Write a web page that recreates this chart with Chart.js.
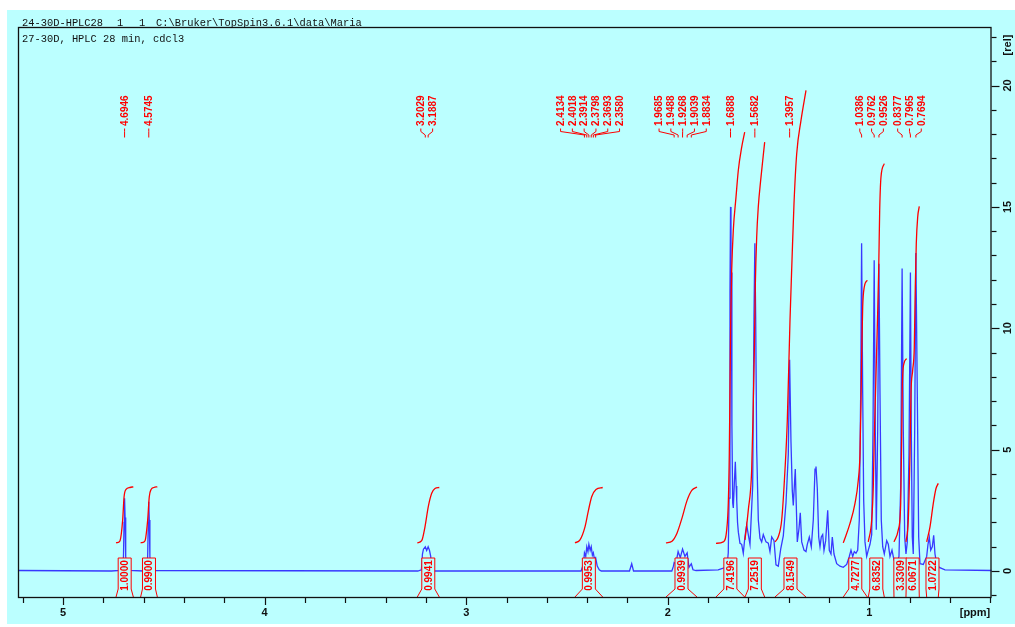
<!DOCTYPE html>
<html><head><meta charset="utf-8">
<script src="https://cdn.jsdelivr.net/npm/chart.js@4/dist/chart.umd.min.js"></script>
<style>html,body{margin:0;padding:0;background:#fff}canvas{display:block}</style>
</head><body>
<canvas id="c" width="1015" height="627"></canvas>
<script>
// ---- data (ppm, intensity) ----
const headerLine1 = "24-30D-HPLC28";
const headerNums = ["1", "1"];
const headerPath = "C:\\Bruker\\TopSpin3.6.1\\data\\Maria";
const titleLine = "27-30D, HPLC 28 min, cdcl3";
const xMajorTicks = [5, 4, 3, 2, 1];
const yMajorTicks = [0, 5, 10, 15, 20];
const xUnit = "[ppm]";
const yUnit = "[rel]";

const spectrum = [
 [5.223,0.02],[4.76,0.0],[4.715,0.03],[4.705,0.15],[4.700,0.6],[4.697,2.0],[4.6946,3.0],[4.692,2.2],[4.689,0.6],[4.684,0.15],[4.675,0.03],
 [4.60,0.0],[4.585,0.15],[4.580,0.6],[4.577,2.0],[4.5745,2.85],[4.572,2.1],[4.569,0.6],[4.564,0.15],[4.555,0.02],
 [3.24,0.0],[3.222,0.05],[3.217,0.7],[3.212,0.9],[3.2029,1.0],[3.196,0.85],[3.1887,1.0],[3.182,0.85],[3.176,0.6],[3.172,0.05],[3.16,0.0],
 [2.43,0.0],[2.418,0.3],[2.4134,0.75],[2.407,0.6],[2.4018,1.0],[2.396,0.8],[2.3914,1.1],[2.385,0.85],[2.3798,1.0],[2.374,0.65],[2.3693,0.75],[2.364,0.5],[2.3580,0.55],[2.350,0.2],[2.340,0.05],[2.33,0.0],
 [2.19,0.0],[2.179,0.3],[2.170,0.0],
 [1.98,0.0],[1.972,0.2],[1.9685,0.35],[1.96,0.3],[1.9488,0.8],[1.938,0.55],[1.9268,0.9],[1.915,0.6],[1.9039,0.75],[1.895,0.15],[1.8834,0.3],[1.875,0.05],[1.86,0.02],
 [1.75,0.05],[1.725,0.12],[1.716,0.15],[1.705,0.3],[1.700,0.75],[1.696,3.0],[1.6915,11.5],[1.6888,15.0],[1.6865,10.0],[1.685,12.3],[1.682,6.0],[1.678,2.8],[1.675,2.6],[1.670,3.6],[1.665,4.5],[1.661,3.5],[1.658,2.9],[1.654,2.0],[1.650,1.6],[1.642,1.14],[1.6335,1.1],[1.6255,0.73],[1.617,1.44],[1.6086,1.9],[1.6007,1.5],[1.5923,1.1],[1.5873,2.0],[1.5789,3.5],[1.5724,10.5],[1.5682,13.5],[1.564,10.4],[1.559,5.0],[1.551,2.1],[1.5427,1.35],[1.5343,1.2],[1.5263,1.5],[1.5129,1.2],[1.5015,1.15],[1.4931,0.8],[1.4846,1.4],[1.4732,1.25],[1.4633,0.25],[1.4519,0.2],[1.44,0.9],[1.4271,1.45],[1.4137,2.8],[1.4023,4.8],[1.3957,8.7],[1.3889,5.3],[1.3824,3.3],[1.3775,2.7],[1.3676,4.2],[1.3626,2.7],[1.3576,1.2],[1.3492,1.75],[1.3428,2.4],[1.3358,1.2],[1.3244,0.86],[1.3145,0.8],[1.308,1.1],[1.2981,1.4],[1.2882,1.0],[1.2783,2.1],[1.2698,4.2],[1.2649,4.3],[1.2584,3.4],[1.2515,1.4],[1.245,1.0],[1.2386,1.4],[1.2316,1.5],[1.2252,0.85],[1.2168,1.25],[1.2068,2.5],[1.1989,0.85],[1.1905,0.7],[1.184,1.4],[1.1756,0.7],[1.1622,0.3],[1.1458,0.2],[1.1295,0.15],[1.1126,0.27],[1.0997,0.6],[1.0913,0.86],[1.0828,0.6],[1.0749,0.8],[1.0665,0.73],[1.058,0.86],[1.0501,2.1],[1.0432,7.3],[1.0386,13.5],[1.0332,7.3],[1.0283,2.9],[1.0218,1.2],[1.0134,0.6],[1.0055,0.86],[0.997,1.1],[0.9886,1.5],[0.9821,5.8],[0.9762,12.8],[0.9707,5.8],[0.9658,1.7],[0.9588,5.8],[0.9526,12.66],[0.9474,7.3],[0.941,2.1],[0.934,1.0],[0.9261,0.7],[0.9142,1.25],[0.9062,1.1],[0.8978,0.6],[0.8879,0.86],[0.878,0.45],[0.8646,0.3],[0.8532,0.6],[0.8447,3.5],[0.8377,12.46],[0.8318,5.8],[0.8249,1.4],[0.8185,0.7],[0.812,1.2],[0.8036,4.8],[0.7965,12.3],[0.7922,5.8],[0.7872,1.4],[0.7823,0.7],[0.7753,5.8],[0.7694,13.1],[0.7624,7.3],[0.7555,1.4],[0.749,0.3],[0.7326,0.27],[0.7158,0.6],[0.7093,1.1],[0.7029,1.4],[0.6959,0.86],[0.688,1.0],[0.6811,1.47],[0.6746,0.7],[0.6662,0.3],[0.6533,0.15],[0.625,0.05],[0.39,0.02]
];

const peakPpm = [4.6946,4.5745,3.2029,3.1887,2.4134,2.4018,2.3914,2.3798,2.3693,2.3580,1.9685,1.9488,1.9268,1.9039,1.8834,1.6888,1.5682,1.3957,1.0386,0.9762,0.9526,0.8377,0.7965,0.7694];

const integralValues = ["1.0000","0.9900","0.9941","0.9953","0.9939","7.4196","7.2519","8.1549","4.7277","6.8352","3.3309","6.0671","1.0722"];
const intA = [[4.737,1.16],[4.727,1.18],[4.717,1.25],[4.704,2.1],[4.697,3.06],[4.6875,3.36],[4.668,3.44],[4.651,3.47]];
const intB = [[4.615,1.16],[4.604,1.18],[4.593,1.25],[4.580,2.1],[4.572,3.06],[4.563,3.36],[4.549,3.44],[4.532,3.47]];
const intC = [[3.2426,1.16],[3.2207,1.25],[3.2044,1.82],[3.188,2.65],[3.1711,3.2],[3.1548,3.4],[3.1334,3.44]];
const intD = [[2.4603,1.16],[2.4355,1.28],[2.4107,1.82],[2.3943,2.47],[2.3775,3.06],[2.3562,3.36],[2.3229,3.44]];
const intE = [[2.0089,1.16],[1.9792,1.23],[1.9544,1.56],[1.9296,2.18],[1.9048,2.9],[1.88,3.33],[1.8552,3.46]];
const intF = [[1.7609,1.14],[1.7247,1.2],[1.7078,1.69],[1.6999,2.79],[1.6949,4.84],[1.6915,7.58],[1.688,10.33],[1.683,12.39],[1.6751,14.03],[1.6617,15.4],[1.6503,16.5],[1.6334,17.46],[1.6185,18.08]];
const intG = [[1.6171,1.28],[1.6007,2.51],[1.5839,4.16],[1.5759,6.9],[1.5709,8.96],[1.566,11.7],[1.559,13.76],[1.5511,15.0],[1.5392,16.1],[1.5194,17.67]];
const intH = [[1.4683,1.2],[1.4519,1.41],[1.435,2.1],[1.4187,4.16],[1.4072,6.2],[1.3938,10.33],[1.3839,12.8],[1.374,15.13],[1.3606,17.19],[1.3393,18.56],[1.3145,19.8]];
const intI = [[1.1295,1.16],[1.0962,1.96],[1.0714,2.79],[1.0551,3.74],[1.0466,4.84],[1.0417,6.9],[1.0382,8.96],[1.0332,10.88],[1.0253,11.7],[1.0104,11.98]];
const intJ = [[1.0055,1.2],[0.9886,2.1],[0.9807,3.47],[0.9757,5.53],[0.9688,7.58],[0.9608,10.05],[0.9539,12.39],[0.9489,14.86],[0.9425,16.23],[0.9261,16.78]];
const intK = [[0.878,1.2],[0.8567,1.69],[0.8447,2.79],[0.8398,5.53],[0.8368,7.58],[0.8284,8.55],[0.815,8.75]];
const intL = [[0.8185,1.2],[0.8071,2.1],[0.7986,4.84],[0.7937,7.31],[0.7852,8.27],[0.7773,9.23],[0.7723,11.7],[0.7674,13.49],[0.7604,14.58],[0.7525,15.02]];
const intM = [[0.7158,1.2],[0.6994,1.82],[0.683,2.79],[0.6696,3.4],[0.6582,3.61]];
const integrals = [intA,intB,intC,intD,intE,intF,intG,intH,intI,intJ,intK,intL,intM];

// ---- styling ----
const BG = '#bbffff';
const BLUE = '#3838ff';
const RED = '#ff0000';
const SANS = "'Liberation Sans', Arial, sans-serif";
const MONO = "'Liberation Mono', 'DejaVu Sans Mono', monospace";

const toXY = a => a.map(p => ({x: p[0], y: p[1]}));
const datasets = [{
  data: toXY(spectrum), borderColor: BLUE, borderWidth: 1.3, pointRadius: 0, tension: 0, order: 2
}];
integrals.forEach(a => datasets.push({
  data: toXY(a), borderColor: RED, borderWidth: 1.3, pointRadius: 0,
  cubicInterpolationMode: 'monotone', order: 1
}));

const deco = {
  id: 'deco',
  beforeDraw(chart) {
    const ctx = chart.ctx;
    ctx.save();
    ctx.fillStyle = '#fff';
    ctx.fillRect(0, 0, chart.width, chart.height);
    ctx.fillStyle = BG;
    ctx.fillRect(7, 10, chart.width - 7, 614);
    ctx.restore();
  },
  afterDatasetsDraw(chart) {
    const ctx = chart.ctx;
    const xs = chart.scales.x, ys = chart.scales.y;
    const a = chart.chartArea;
    ctx.save();

    // integral label boxes
    ctx.font = 'bold 10px ' + SANS;
    integrals.forEach((arr, i) => {
      const xl = xs.getPixelForValue(arr[0][0]);
      const xr = xs.getPixelForValue(arr[arr.length - 1][0]);
      const cx = (xl + xr) / 2;
      const bl = cx - 6.5, br = cx + 6.5;
      const top = 558, mid = 589, bot = a.bottom - 1;
      ctx.beginPath();
      ctx.moveTo(xl, bot); ctx.lineTo(bl, mid); ctx.lineTo(bl, top);
      ctx.lineTo(br, top); ctx.lineTo(br, mid); ctx.lineTo(xr, bot);
      ctx.closePath();
      ctx.fillStyle = BG; ctx.fill();
      ctx.beginPath();
      ctx.moveTo(xl, bot); ctx.lineTo(bl, mid); ctx.lineTo(bl, top);
      ctx.lineTo(br, top); ctx.lineTo(br, mid); ctx.lineTo(xr, bot);
      ctx.strokeStyle = RED; ctx.lineWidth = 1; ctx.stroke();
      ctx.save();
      ctx.translate(cx, 575.5); ctx.rotate(-Math.PI / 2);
      ctx.fillStyle = RED; ctx.textAlign = 'center'; ctx.textBaseline = 'middle';
      ctx.fillText(integralValues[i], 0, 0.5);
      ctx.restore();
    });

    // peak labels with cluster layout
    const spacing = 11.8;
    const peaks = peakPpm.map(p => ({p, px: xs.getPixelForValue(p)})).sort((u, v) => u.px - v.px);
    let clusters = peaks.map(k => ({items: [k]}));
    const layout = c => {
      const m = c.items.reduce((s, k) => s + k.px, 0) / c.items.length;
      c.start = m - spacing * (c.items.length - 1) / 2;
      c.end = c.start + spacing * (c.items.length - 1);
    };
    clusters.forEach(layout);
    let merged = true;
    while (merged) {
      merged = false;
      for (let i = 0; i < clusters.length - 1; i++) {
        if (clusters[i + 1].start - clusters[i].end < spacing) {
          clusters[i].items = clusters[i].items.concat(clusters[i + 1].items);
          clusters.splice(i + 1, 1);
          layout(clusters[i]);
          merged = true; break;
        }
      }
    }
    ctx.strokeStyle = RED; ctx.fillStyle = RED; ctx.lineWidth = 1;
    ctx.font = 'bold 10px ' + SANS;
    clusters.forEach(c => {
      c.items.forEach((k, j) => {
        const lx = c.start + j * spacing;
        ctx.beginPath();
        ctx.moveTo(lx, 128.5); ctx.lineTo(lx, 131.5);
        ctx.lineTo(k.px, 135); ctx.lineTo(k.px, 137.5);
        ctx.stroke();
        ctx.save();
        ctx.translate(lx, 126); ctx.rotate(-Math.PI / 2);
        ctx.textAlign = 'left'; ctx.textBaseline = 'middle';
        ctx.fillText(k.p.toFixed(4), 0, 0.5);
        ctx.restore();
      });
    });
    ctx.restore();
  },
  afterDraw(chart) {
    const ctx = chart.ctx;
    const xs = chart.scales.x, ys = chart.scales.y;
    const a = chart.chartArea;
    ctx.save();
    // frame
    ctx.strokeStyle = '#111'; ctx.lineWidth = 1.3;
    ctx.strokeRect(a.left + 0.5, a.top + 0.5, a.right - a.left - 1, a.bottom - a.top - 1);
    // x ticks
    ctx.lineWidth = 1.2;
    for (let v = 52; v >= 4; v -= 2) {
      const ppm = v / 10;
      const x = Math.round(xs.getPixelForValue(ppm)) + 0.5;
      const major = v % 10 === 0;
      ctx.beginPath(); ctx.moveTo(x, a.bottom); ctx.lineTo(x, a.bottom + (major ? 7 : 5)); ctx.stroke();
    }
    ctx.fillStyle = '#111'; ctx.font = 'bold 11px ' + SANS;
    ctx.textAlign = 'center'; ctx.textBaseline = 'middle';
    xMajorTicks.forEach(v => ctx.fillText(String(v), xs.getPixelForValue(v), 613));
    ctx.fillText(xUnit, 975, 613);
    // y ticks
    for (let v = -1; v <= 22; v++) {
      const y = Math.round(ys.getPixelForValue(v)) + 0.5;
      const major = v % 5 === 0;
      ctx.beginPath(); ctx.moveTo(a.right, y); ctx.lineTo(a.right + (major ? 8 : 5), y); ctx.stroke();
    }
    const yl = t => { ctx.save(); ctx.translate(1008, t.y); ctx.rotate(-Math.PI / 2); ctx.fillText(t.s, 0, 0); ctx.restore(); };
    yMajorTicks.forEach(v => yl({s: String(v), y: ys.getPixelForValue(v)}));
    yl({s: yUnit, y: 45});
    // header
    ctx.font = '10.4px ' + MONO; ctx.textAlign = 'left'; ctx.textBaseline = 'alphabetic';
    ctx.fillStyle = '#111';
    ctx.fillText(headerLine1, 22, 26);
    ctx.fillText(headerNums[0], 117, 26);
    ctx.fillText(headerNums[1], 139, 26);
    ctx.fillText(headerPath, 156, 26);
    ctx.fillText(titleLine, 22, 42);
    ctx.restore();
  }
};

new Chart(document.getElementById('c'), {
  type: 'line',
  data: { datasets },
  options: {
    responsive: false, devicePixelRatio: 1, animation: false,
    layout: { padding: { left: 18, top: 27, right: 23.5, bottom: 29 } },
    scales: {
      x: { type: 'linear', reverse: true, min: 0.3943, max: 5.2232, display: false },
      y: { type: 'linear', min: -1.112, max: 22.41, display: false }
    },
    plugins: { legend: { display: false }, tooltip: { enabled: false } },
    elements: { point: { radius: 0 } }
  },
  plugins: [deco]
});
</script></body></html>
